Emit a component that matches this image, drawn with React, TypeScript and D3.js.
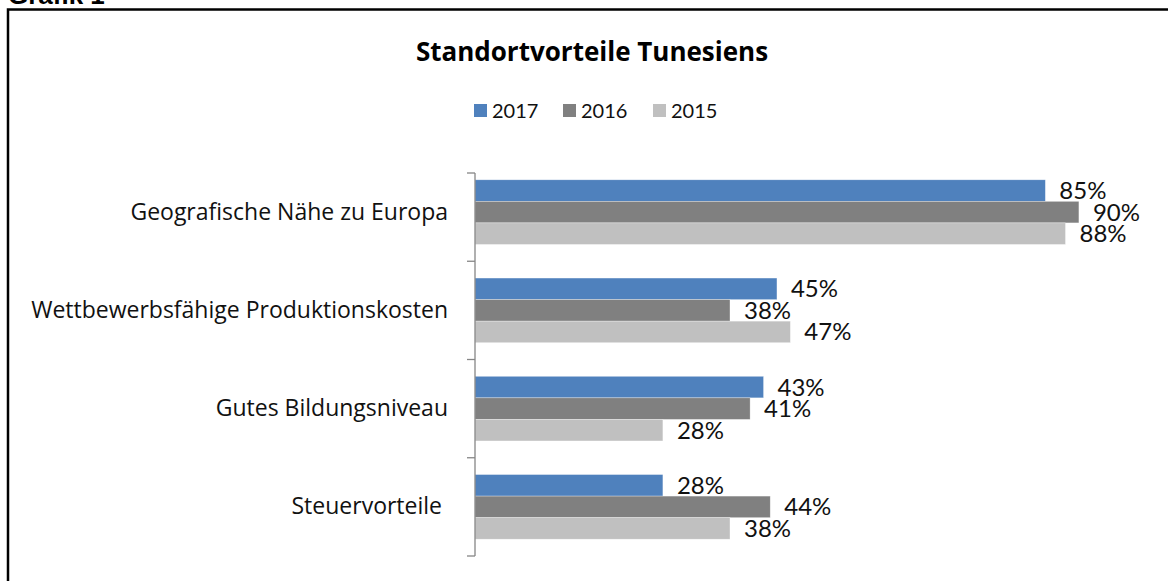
import * as d3 from 'd3';
import React, { useRef, useEffect } from 'react';

// chart data
const categories = [
  'Geografische Nähe zu Europa',
  'Wettbewerbsfähige Produktionskosten',
  'Gutes Bildungsniveau',
  'Steuervorteile ',
];
const seriesNames = ['2017', '2016', '2015'];
const values2017 = [85, 45, 43, 28];
const values2016 = [90, 38, 41, 44];
const values2015 = [88, 47, 28, 38];
const seriesColors = ['#4F81BD', '#808080', '#C0C0C0'];

const FONT = 'Lato, "Open Sans", sans-serif';
const WIDE_FONT = '"Open Sans", Lato, sans-serif';

function App() {
  const ref = useRef<SVGSVGElement>(null);

  useEffect(() => {
    const svg = d3.select(ref.current);
    svg.selectAll('*').remove();

    const seriesValues = [values2017, values2016, values2015];
    const rows = categories.map((c, i) => ({
      cat: c,
      vals: seriesNames.map((s, j) => ({ key: s, value: seriesValues[j][i], color: seriesColors[j] })),
    }));

    // frame + cut off heading
    svg.append('text')
      .attr('x', 8)
      .attr('y', 4)
      .attr('font-family', 'Arial, "Liberation Sans", sans-serif')
      .attr('font-weight', 'bold')
      .attr('font-size', 26)
      .attr('fill', '#000')
      .text('Grafik 1');
    svg.append('rect')
      .attr('x', 8)
      .attr('y', 9.5)
      .attr('width', 3000)
      .attr('height', 3000)
      .attr('fill', 'none')
      .attr('stroke', '#000')
      .attr('stroke-width', 2.5);

    // title
    svg.append('text')
      .attr('x', 592)
      .attr('y', 61)
      .attr('text-anchor', 'middle')
      .attr('font-family', WIDE_FONT)
      .attr('font-weight', 'bold')
      .attr('font-size', 26)
      .attr('fill', '#000')
      .text('Standortvorteile Tunesiens');

    // legend
    const legendX = [474, 563, 653];
    const legend = svg.append('g');
    seriesNames.forEach((s, i) => {
      legend.append('rect')
        .attr('x', legendX[i])
        .attr('y', 104)
        .attr('width', 13)
        .attr('height', 13)
        .attr('fill', seriesColors[i]);
      legend.append('text')
        .attr('x', legendX[i] + 18)
        .attr('y', 118)
        .attr('font-family', FONT)
        .attr('font-size', 20)
        .attr('fill', '#111')
        .text(s);
    });

    const x = d3.scaleLinear().domain([0, 100]).range([475, 1146]);
    const y = d3.scaleBand<string>().domain(categories).range([163, 556]);
    const ySub = d3.scaleBand<string>()
      .domain(seriesNames)
      .range([0, y.bandwidth()])
      .paddingOuter(0.78);

    const groups = svg.append('g')
      .selectAll('g')
      .data(rows)
      .enter().append('g')
      .attr('transform', d => `translate(0,${y(d.cat)})`);

    groups.selectAll('rect')
      .data(d => d.vals)
      .enter().append('rect')
      .attr('x', x(0))
      .attr('y', d => ySub(d.key)!)
      .attr('width', d => x(d.value) - x(0))
      .attr('height', ySub.bandwidth())
      .attr('fill', d => d.color)
      .attr('stroke', '#ffffff')
      .attr('stroke-opacity', 0.5)
      .attr('stroke-width', 0.6);

    groups.selectAll('text.val')
      .data(d => d.vals)
      .enter().append('text')
      .attr('class', 'val')
      .attr('x', d => x(d.value) + 14)
      .attr('y', d => ySub(d.key)! + ySub.bandwidth() / 2 + 8.5)
      .attr('font-family', FONT)
      .attr('font-size', 24)
      .attr('fill', '#111')
      .text(d => d.value + '%');

    // category axis
    const axis = svg.append('g').attr('transform', `translate(${x(0)},0)`);
    const tickYs = [173, ...categories.map(c => y(c)! + y.step())];
    axis.append('line')
      .attr('x1', 0).attr('x2', 0)
      .attr('y1', tickYs[0]).attr('y2', tickYs[tickYs.length - 1])
      .attr('stroke', '#868686')
      .attr('stroke-width', 1.3);
    axis.selectAll('line.tick')
      .data(tickYs)
      .enter().append('line')
      .attr('class', 'tick')
      .attr('x1', -8).attr('x2', 0)
      .attr('y1', d => d).attr('y2', d => d)
      .attr('stroke', '#868686')
      .attr('stroke-width', 1.3);
    axis.selectAll('text')
      .data(categories)
      .enter().append('text')
      .attr('x', -27)
      .attr('y', d => y(d)! + y.bandwidth() / 2 + 7.5)
      .attr('text-anchor', 'end')
      .attr('font-family', WIDE_FONT)
      .attr('font-size', 23)
      .attr('fill', '#111')
      .style('white-space', 'pre')
      .text(d => d);
  }, []);

  return (
    <div style={{ position: 'absolute', left: 0, top: 0 }}>
      <svg ref={ref} width={1168} height={581} style={{ display: 'block', background: '#fff' }}></svg>
    </div>
  );
}

export default App;
